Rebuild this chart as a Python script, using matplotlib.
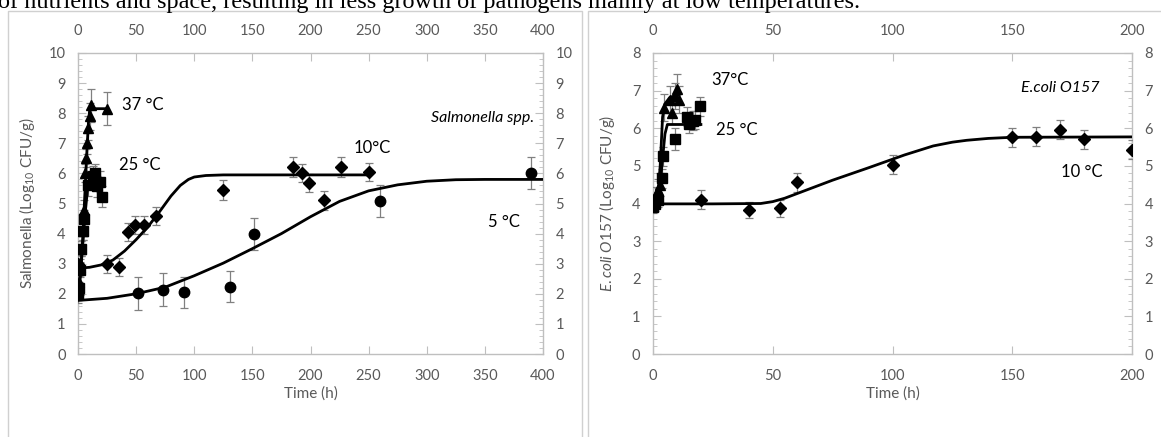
import matplotlib
matplotlib.use("Agg")
import matplotlib.pyplot as plt
from matplotlib.lines import Line2D
from matplotlib.ticker import MultipleLocator

plt.rcParams["font.family"] = ["Lato", "DejaVu Sans"]
plt.rcParams["mathtext.fontset"] = "custom"
plt.rcParams["mathtext.rm"] = "Lato"
plt.rcParams["mathtext.it"] = "Lato:italic"

# ---- Salmonella (left panel) ----
sal_t37 = [0, 1, 2, 3, 4, 5, 6, 7, 8, 9, 10, 11, 25]
sal_y37 = [2.0, 2.4, 2.9, 3.5, 4.1, 4.8, 6.0, 6.5, 7.0, 7.5, 7.9, 8.27, 8.15]
sal_e37 = [0.2, 0.2, 0.25, 0.25, 0.3, 0.3, 0.3, 0.3, 0.35, 0.4, 0.45, 0.55, 0.55]

sal_t25 = [0, 1, 2, 3, 4, 5, 9, 13, 15, 16.5, 19, 21]
sal_y25 = [2.0, 2.2, 2.8, 3.5, 4.1, 4.5, 5.6, 5.9, 6.0, 5.58, 5.72, 5.23]
sal_e25 = [0.2, 0.2, 0.25, 0.25, 0.3, 0.3, 0.35, 0.35, 0.3, 0.35, 0.35, 0.35]

sal_t10 = [0, 25, 35, 43, 49, 57, 67, 125, 185, 193, 199, 212, 226, 250]
sal_y10 = [3.0, 3.0, 2.9, 4.05, 4.3, 4.3, 4.6, 5.45, 6.2, 6.0, 5.68, 5.1, 6.22, 6.05]
sal_e10 = [0.3, 0.3, 0.3, 0.3, 0.3, 0.3, 0.3, 0.32, 0.33, 0.3, 0.3, 0.3, 0.33, 0.3]

sal_t5 = [0, 52, 73, 91, 131, 151, 260, 390]
sal_y5 = [2.0, 2.02, 2.13, 2.05, 2.24, 3.98, 5.09, 6.02]
sal_e5 = [0.3, 0.55, 0.55, 0.52, 0.52, 0.54, 0.53, 0.53]

# fitted curves
sal_c37_t = [0, 2, 4, 6, 8, 9, 10, 11, 25]
sal_c37_y = [1.95, 2.6, 3.8, 5.4, 7.0, 7.7, 8.1, 8.15, 8.15]
sal_c25_t = [0, 2, 4, 6, 8, 9, 10, 20]
sal_c25_y = [2.0, 2.6, 3.6, 4.6, 5.4, 5.6, 5.65, 5.65]
sal_c10_t = [0, 10, 20, 30, 40, 50, 60, 70, 80, 88, 95, 100, 110, 125, 250]
sal_c10_y = [2.85, 2.88, 2.96, 3.12, 3.42, 3.8, 4.22, 4.72, 5.25, 5.6, 5.8, 5.88, 5.93, 5.95, 5.95]
sal_c5_t = [0, 25, 50, 75, 100, 125, 150, 175, 200, 225, 250, 275, 300, 325, 350, 400]
sal_c5_y = [1.78, 1.85, 2.0, 2.22, 2.6, 3.02, 3.5, 4.0, 4.56, 5.07, 5.42, 5.62, 5.74, 5.79, 5.8, 5.8]

# ---- E. coli O157 (right panel) ----
eco_t37 = [0, 1, 2, 3, 4.7, 7, 8, 9, 10, 11]
eco_y37 = [4.0, 4.18, 4.36, 4.5, 6.55, 6.76, 6.4, 6.85, 7.05, 6.76]
eco_e37 = [0.2, 0.25, 0.3, 0.3, 0.35, 0.35, 0.3, 0.35, 0.4, 0.35]

eco_t25 = [0, 1, 2, 3.6, 4.3, 9, 14, 15.2, 16.5, 17.5, 19.6]
eco_y25 = [3.9, 4.0, 4.1, 4.67, 5.25, 5.71, 6.31, 6.12, 6.2, 6.22, 6.58]
eco_e25 = [0.15, 0.2, 0.2, 0.25, 0.25, 0.3, 0.25, 0.25, 0.25, 0.25, 0.25]

eco_t10 = [0, 20, 40, 53, 60, 100, 150, 160, 170, 180, 200]
eco_y10 = [4.0, 4.1, 3.83, 3.87, 4.56, 5.03, 5.76, 5.78, 5.96, 5.71, 5.43]
eco_e10 = [0.2, 0.25, 0.22, 0.22, 0.25, 0.25, 0.25, 0.25, 0.25, 0.25, 0.25]

eco_c37_t = [0, 2, 3, 4, 5, 7, 11]
eco_c37_y = [3.95, 4.2, 5.0, 6.3, 6.65, 6.82, 6.9]
eco_c25_t = [0, 2, 3, 4, 5, 6, 20]
eco_c25_y = [3.95, 4.1, 4.5, 5.2, 5.85, 6.1, 6.1]
eco_c10_t = [0, 25, 45, 50, 55, 60, 75, 90, 105, 117, 125, 131, 140, 150, 200]
eco_c10_y = [3.99, 3.99, 4.0, 4.05, 4.14, 4.26, 4.62, 4.95, 5.29, 5.53, 5.63, 5.68, 5.73, 5.76, 5.77]

GREY = "#595959"
SPINE = "#bfbfbf"

fig = plt.figure(figsize=(11.61, 4.37), dpi=100)

# panel frames from the report page
for xs, ys in [([8, 8, 581.5, 581.5], [437, 11, 11, 437]),
               ([588.5, 588.5, 1161], [437, 11, 11])]:
    fig.add_artist(Line2D([x / 1161 for x in xs], [1 - y / 437 for y in ys],
                          transform=fig.transFigure, color="#d0d0d0", lw=1.0))

fig.text(-2 / 1161, 1 - 8 / 437,
         "of nutrients and space, resulting in less growth of pathogens mainly at low temperatures.",
         family="Liberation Serif", fontsize=17.5, va="baseline", ha="left")


def style_axes(ax, xmax, ymax, ylabel, ylabel_x):
    ax.set_xlim(0, xmax)
    ax.set_ylim(0, ymax)
    ax.xaxis.set_major_locator(MultipleLocator(50))
    ax.yaxis.set_major_locator(MultipleLocator(1))
    ax.yaxis.set_minor_locator(MultipleLocator(0.2))
    for s in ax.spines.values():
        s.set_color(SPINE)
        s.set_linewidth(1.0)
    ax.tick_params(axis="both", which="both", direction="in", colors=SPINE,
                   labelcolor=GREY, labelsize=10.5,
                   top=True, right=True, labeltop=True, labelright=True)
    ax.tick_params(axis="x", which="major", length=6, pad=10.5)
    ax.tick_params(axis="y", which="major", length=6, pad=9)
    ax.tick_params(axis="y", which="minor", length=3)
    ax.set_xlabel("Time (h)", color=GREY, fontsize=11, labelpad=3)
    ax.set_ylabel(ylabel, color=GREY, fontsize=11)
    ax.yaxis.set_label_coords(ylabel_x, 0.5)


def series(ax, t, y, e, marker, ms):
    ax.errorbar(t, y, yerr=e, fmt=marker, color="black", ms=ms,
                ecolor="#808080", elinewidth=0.9, capsize=3, capthick=0.9, zorder=3)


def curve(ax, t, y):
    ax.plot(t, y, color="black", lw=2.0, zorder=4)


axL = fig.add_axes([78 / 1161, 1 - 354 / 437, 465 / 1161, 301 / 437])
style_axes(axL, 400, 10, r"Salmonella (Log$_{10}$ CFU/g)", -0.088)
curve(axL, sal_c5_t, sal_c5_y)
curve(axL, sal_c10_t, sal_c10_y)
curve(axL, sal_c25_t, sal_c25_y)
curve(axL, sal_c37_t, sal_c37_y)
series(axL, sal_t5, sal_y5, sal_e5, "o", 7.5)
series(axL, sal_t10, sal_y10, sal_e10, "D", 6.5)
series(axL, sal_t25, sal_y25, sal_e25, "s", 6.5)
series(axL, sal_t37, sal_y37, sal_e37, "^", 7.5)
axL.text(56, 8.27, "37 °C", fontsize=12, ha="center", va="center")
axL.text(53, 6.28, "25 °C", fontsize=12, ha="center", va="center")
axL.text(253, 6.84, "10°C", fontsize=12, ha="center", va="center")
axL.text(366, 4.39, "5 °C", fontsize=12, ha="center", va="center")
axL.text(392, 7.84, "Salmonella spp.", fontsize=11.5, style="italic", ha="right", va="center")

axR = fig.add_axes([653 / 1161, 1 - 354 / 437, 479 / 1161, 301 / 437])
style_axes(axR, 200, 8, r"$\it{E.coli\ O157}$ (Log$_{10}$ CFU/g)", -0.075)
curve(axR, eco_c10_t, eco_c10_y)
curve(axR, eco_c25_t, eco_c25_y)
curve(axR, eco_c37_t, eco_c37_y)
series(axR, eco_t10, eco_y10, eco_e10, "D", 6.5)
series(axR, eco_t25, eco_y25, eco_e25, "s", 6.5)
series(axR, eco_t37, eco_y37, eco_e37, "^", 7.5)
axR.text(32, 7.29, "37°C", fontsize=12, ha="center", va="center")
axR.text(35, 5.96, "25 °C", fontsize=12, ha="center", va="center")
axR.text(179, 4.85, "10 °C", fontsize=12, ha="center", va="center")
axR.text(170, 7.07, "E.coli O157", fontsize=11.5, style="italic", ha="center", va="center")

fig.savefig("out.png", dpi=100)
